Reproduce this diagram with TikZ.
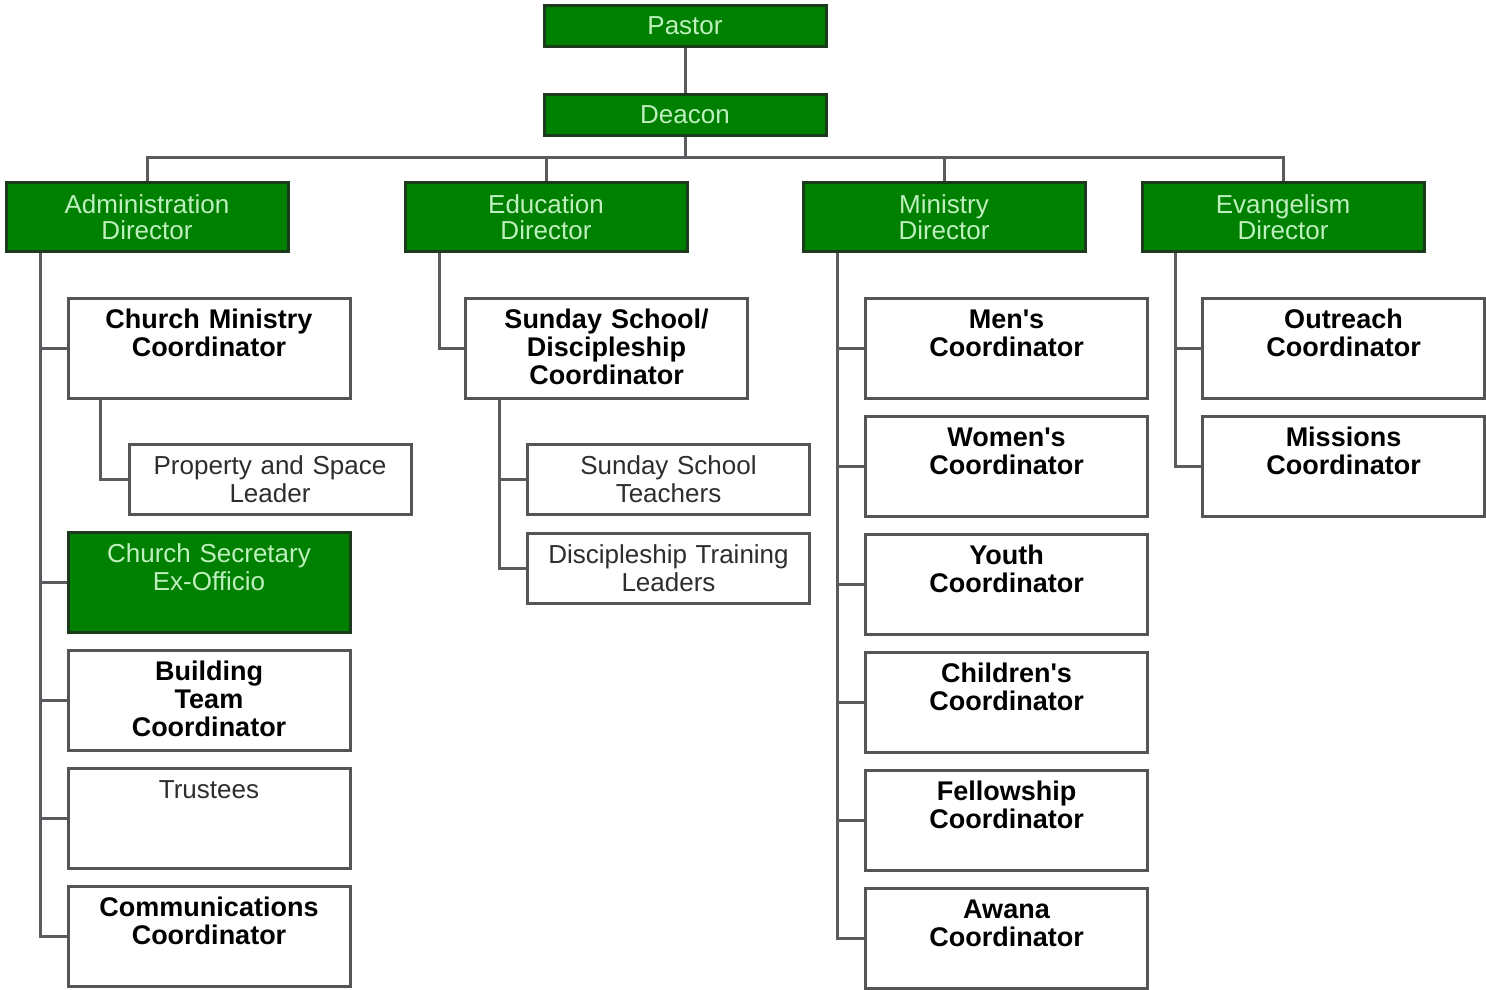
\documentclass[tikz,border=0pt]{standalone}
\usepackage{fontspec}
\setmainfont{Liberation Sans}
\usetikzlibrary{positioning}
\definecolor{headgreen}{RGB}{0,128,0}
\definecolor{headline}{RGB}{28,58,28}
\definecolor{headtext}{RGB}{190,240,190}
\definecolor{boxline}{RGB}{85,85,85}
\definecolor{wireline}{RGB}{90,90,95}
\definecolor{softtext}{RGB}{45,45,45}
\tikzset{head/.style=
   {rectangle,
    draw=headline,
    fill=headgreen,
    line width=3pt,
    text=headtext,
    text width=282pt,
    inner sep=0pt,
    align=center,
    font=\fontsize{26}{26}\selectfont,
    minimum height=#1}}
\tikzset{post/.style=
   {rectangle,
    draw=boxline,
    fill=white,
    line width=3pt,
    text width=282pt,
    inner sep=0pt,
    align=center,
    font=\fontsize{27}{28}\selectfont\bfseries,
    text height=30pt,
    text depth=#1}}
\tikzset{soft/.style = {font=\fontsize{26}{28}\selectfont, text=softtext}}
\tikzset{wire/.style = {draw=wireline, line width=3pt}}

\begin{document}
\begin{tikzpicture}[x=1pt,y=-1pt]

    \useasboundingbox (0,0) rectangle (1486,990);

    % Place nodes
    \node [head=41pt] (pastor) at (685,26) {Pastor};
    \node [head=41pt] (deacon) at (685,114.5) {Deacon};

    \node [head=69pt] (admin) at (147,217) {Administration\\Director};
    \node [head=69pt] (edu) at (546,217) {Education\\Director};
    \node [head=69pt] (ministry) at (944,217) {Ministry\\Director};
    \node [head=69pt] (evang) at (1283,217) {Evangelism\\Director};

    \node [post=70pt] (churchmin) at (209,348.5) {Church Ministry\\Coordinator};
    \node [post=40pt, soft] (property) at (270,479.5) {Property and Space\\Leader};
    \node [post=70pt, draw=headline, fill=headgreen, text=headtext,
           font=\fontsize{26}{28}\selectfont] (secretary) at (209,582.5) {Church Secretary\\Ex-Officio};
    \node [post=70pt, below of=secretary, node distance=118pt] (building) {Building\\Team\\Coordinator};
    \node [post=70pt, soft, below of=building, node distance=118pt] (trustees) {Trustees};
    \node [post=70pt, below of=trustees, node distance=118pt] (comms) {Communications\\Coordinator};

    \node [post=70pt] (sunday) at (606.5,348.5) {Sunday School/\\Discipleship\\Coordinator};
    \node [post=40pt, soft] (teachers) at (668.5,479) {Sunday School\\Teachers};
    \node [post=40pt, soft, below of=teachers, node distance=89pt] (training) {Discipleship Training\\Leaders};

    \node [post=70pt] (mens) at (1006.5,348.5) {Men\textquotesingle s\\Coordinator};
    \node [post=70pt, below of=mens, node distance=118pt] (womens) {Women\textquotesingle s\\Coordinator};
    \node [post=70pt, below of=womens, node distance=118pt] (youth) {Youth\\Coordinator};
    \node [post=70pt, below of=youth, node distance=118pt] (children) {Children\textquotesingle s\\Coordinator};
    \node [post=70pt, below of=children, node distance=118pt] (fellowship) {Fellowship\\Coordinator};
    \node [post=70pt, below of=fellowship, node distance=118pt] (awana) {Awana\\Coordinator};

    \node [post=70pt] (outreach) at (1343.5,348.5) {Outreach\\Coordinator};
    \node [post=70pt, below of=outreach, node distance=118pt] (missions) {Missions\\Coordinator};

    % Draw edges
    \path [wire] (pastor) -- (deacon);
    \path [wire] (deacon.south) -- ++(0,21) coordinate (bus);
    \path [wire] (bus) -| (admin.north);
    \path [wire] (bus) -| (edu.north);
    \path [wire] (bus) -| (ministry.north);
    \path [wire] (bus) -| (evang.north);

    \path [wire] ([xshift=36pt] admin.south west) |- (churchmin.west);
    \path [wire] ([xshift=34pt] churchmin.south west) |- (property.west);
    \path [wire] ([xshift=36pt] admin.south west) |- (secretary.west);
    \path [wire] ([xshift=36pt] admin.south west) |- (building.west);
    \path [wire] ([xshift=36pt] admin.south west) |- (trustees.west);
    \path [wire] ([xshift=36pt] admin.south west) |- (comms.west);

    \path [wire] ([xshift=36pt] edu.south west) |- (sunday.west);
    \path [wire] ([xshift=35pt] sunday.south west) |- (teachers.west);
    \path [wire] ([xshift=35pt] sunday.south west) |- (training.west);

    \path [wire] ([xshift=36pt] ministry.south west) |- (mens.west);
    \path [wire] ([xshift=36pt] ministry.south west) |- (womens.west);
    \path [wire] ([xshift=36pt] ministry.south west) |- (youth.west);
    \path [wire] ([xshift=36pt] ministry.south west) |- (children.west);
    \path [wire] ([xshift=36pt] ministry.south west) |- (fellowship.west);
    \path [wire] ([xshift=36pt] ministry.south west) |- (awana.west);

    \path [wire] ([xshift=35pt] evang.south west) |- (outreach.west);
    \path [wire] ([xshift=35pt] evang.south west) |- (missions.west);

\end{tikzpicture}
\end{document}
